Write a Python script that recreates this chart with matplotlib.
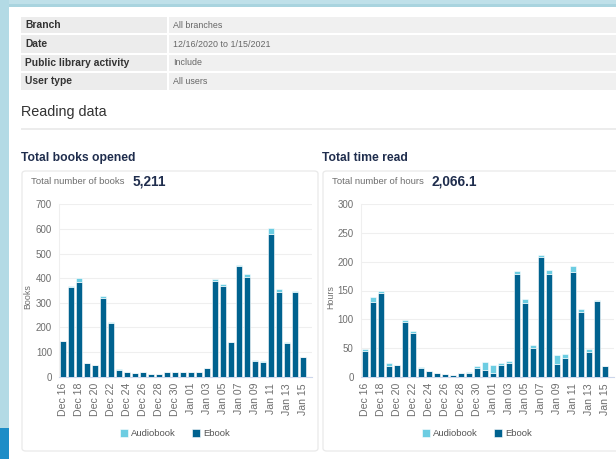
import matplotlib
matplotlib.use("Agg")
import matplotlib.pyplot as plt
from matplotlib.patches import Rectangle, FancyBboxPatch

# ---------------- data ----------------
dates = ["Dec 16", "Dec 17", "Dec 18", "Dec 19", "Dec 20", "Dec 21", "Dec 22", "Dec 23",
         "Dec 24", "Dec 25", "Dec 26", "Dec 27", "Dec 28", "Dec 29", "Dec 30", "Dec 31",
         "Jan 01", "Jan 02", "Jan 03", "Jan 04", "Jan 05", "Jan 06", "Jan 07", "Jan 08",
         "Jan 09", "Jan 10", "Jan 11", "Jan 12", "Jan 13", "Jan 14", "Jan 15"]

ebook_books = [146, 366, 384, 57, 47, 321, 220, 28, 18, 15, 20, 11, 11, 20, 20, 20,
               21, 20, 34, 390, 369, 139, 448, 406, 65, 60, 579, 342, 135, 343, 78]
audio_books = [0, 2, 16, 0, 0, 8, 2, 3, 0, 0, 0, 0, 0, 0, 0, 0,
               0, 0, 0, 5, 6, 0, 7, 9, 3, 2, 25, 13, 4, 3, 2]

ebook_hours = [44, 130.5, 145, 18, 21, 96, 76.6, 15.7, 10, 7, 4, 3, 6, 6, 16, 12,
               7, 20, 24, 178.7, 129, 50.5, 208, 179, 22, 32, 182.7, 112, 43.5, 131, 18.6]
audio_hours = [3.6, 8.5, 5, 5, 0, 2.6, 3.4, 1.3, 0, 0, 0, 0, 1, 2, 3, 13,
               13, 4, 3, 5.8, 5.6, 4.5, 3, 6, 15.7, 7, 9.9, 5.8, 4.1, 2.4, 0]

table_labels = ["Branch", "Date", "Public library activity", "User type"]
table_values = ["All branches", "12/16/2020 to 1/15/2021", "Include", "All users"]

books_yticks = [0, 100, 200, 300, 400, 500, 600, 700]
hours_yticks = [0, 50, 100, 150, 200, 250, 300]

# ---------------- style ----------------
FONT = ["Liberation Sans", "DejaVu Sans"]
plt.rcParams["font.family"] = FONT
EBOOK = "#00628f"
AUDIO = "#6dcde2"
NAVY = "#1f2d4d"
GRAY = "#6e6e6e"

W, H = 616, 459
fig = plt.figure(figsize=(W / 100, H / 100), dpi=100, facecolor="white")


def fx(x):
    return x / W


def fy(y):
    return 1 - y / H


def rect(x0, y0, x1, y1, color, z=0):
    fig.add_artist(Rectangle((fx(x0), fy(y1)), fx(x1) - fx(x0), fy(y0) - fy(y1),
                             transform=fig.transFigure, facecolor=color,
                             edgecolor="none", zorder=z))


# page background
rect(0, 0, W, 7, "#bfe0e9")
rect(0, 4, W, 7, "#a9d4df")
rect(0, 0, 9, 428, "#b3dae5")
rect(0, 428, 9, H, "#1d8dc7")

# filter table
rows = [(16.7, 33.3), (35, 53.3), (55, 70.7), (72.7, 90)]
for (y0, y1), lab, val in zip(rows, table_labels, table_values):
    rect(21, y0, 167, y1, "#ececec", 1)
    rect(169, y0, W, y1, "#f0f0f0", 1)
    yc = (y0 + y1) / 2
    fig.text(fx(25), fy(yc), lab, fontsize=7.4, fontweight="bold", color="#333333",
             ha="left", va="center")
    fig.text(fx(173), fy(yc), val, fontsize=6.4, color="#666666",
             ha="left", va="center")

fig.text(fx(21), fy(112), "Reading data", fontsize=10.4, color="#333333",
         ha="left", va="center")
rect(21, 128.3, W, 130, "#ececec", 1)

# chart boxes
for x0, x1 in [(22, 318), (323, 625)]:
    fig.add_artist(FancyBboxPatch((fx(x0), fy(451)), fx(x1) - fx(x0), fy(171) - fy(451),
                                  boxstyle="round,pad=0,rounding_size=0.006",
                                  transform=fig.transFigure, facecolor="white",
                                  edgecolor="#e9e9e9", linewidth=0.9, zorder=1))


def make_chart(x_left, x_right, title_x, title, sub_label, total, ylab, ylab_x,
               ebook, audio, yticks, legend_cx):
    ax = fig.add_axes([fx(x_left), fy(376.7), fx(x_right) - fx(x_left), fy(204.3) - fy(376.7)])
    ax.set_zorder(3)
    ax.patch.set_alpha(0)
    xs = list(range(len(dates)))
    b1 = ax.bar(xs, ebook, width=0.8, color=EBOOK, edgecolor="white", linewidth=0.4,
                label="Ebook", zorder=3)
    b2 = ax.bar(xs, audio, width=0.8, bottom=ebook, color=AUDIO, edgecolor="white",
                linewidth=0.4, label="Audiobook", zorder=3)
    ax.set_ylim(yticks[0], yticks[-1])
    ax.set_xlim(-0.5, -0.5 + (x_right - x_left) / 8.0)
    ax.set_yticks(yticks)
    ax.set_yticklabels([str(t) for t in yticks], fontsize=7, color=GRAY)
    ax.set_xticks(xs[::2])
    ax.set_xticklabels(dates[::2], rotation=90, fontsize=7.6, color=GRAY, va="top", ha="center")
    ax.tick_params(axis="both", length=0)
    ax.tick_params(axis="y", pad=5)
    ax.tick_params(axis="x", pad=4.5)
    ax.grid(axis="y", color="#efefef", linewidth=0.8, zorder=0)
    ax.set_axisbelow(True)
    for s in ["top", "right"]:
        ax.spines[s].set_visible(False)
    ax.spines["left"].set_color("#efefef")
    ax.spines["left"].set_linewidth(0.8)
    ax.spines["bottom"].set_color("#ccd6eb")
    ax.spines["bottom"].set_linewidth(0.8)

    fig.text(fx(ylab_x), fy(297), ylab, rotation=90, fontsize=6.4, color=GRAY,
             ha="center", va="center")
    fig.text(fx(title_x), fy(158), title, fontsize=8.7, fontweight="bold", color=NAVY,
             ha="left", va="center")
    t = fig.text(fx(title_x + 10), fy(181.5), sub_label, fontsize=6.8, color=GRAY,
                 ha="left", va="center")
    fig.canvas.draw()
    bb = t.get_window_extent()
    fig.text(bb.x1 / W + fx(8), fy(181.5), total, fontsize=9.8, fontweight="bold",
             color=NAVY, ha="left", va="center")

    ax.legend([b2, b1], ["Audiobook", "Ebook"], loc="center",
              bbox_to_anchor=(fx(legend_cx), fy(433.5)), bbox_transform=fig.transFigure,
              ncol=2, frameon=False, fontsize=6.8, handlelength=0.85, handleheight=0.85,
              handletextpad=0.3, columnspacing=1.7, labelcolor="#555555")
    return ax


make_chart(59, 312, 21, "Total books opened", "Total number of books", "5,211", "Books", 28,
           ebook_books, audio_books, books_yticks, 175)
make_chart(360.7, 614, 322, "Total time read", "Total number of hours", "2,066.1", "Hours", 331,
           ebook_hours, audio_hours, hours_yticks, 477)

fig.savefig("out.png", dpi=100, facecolor="white")
